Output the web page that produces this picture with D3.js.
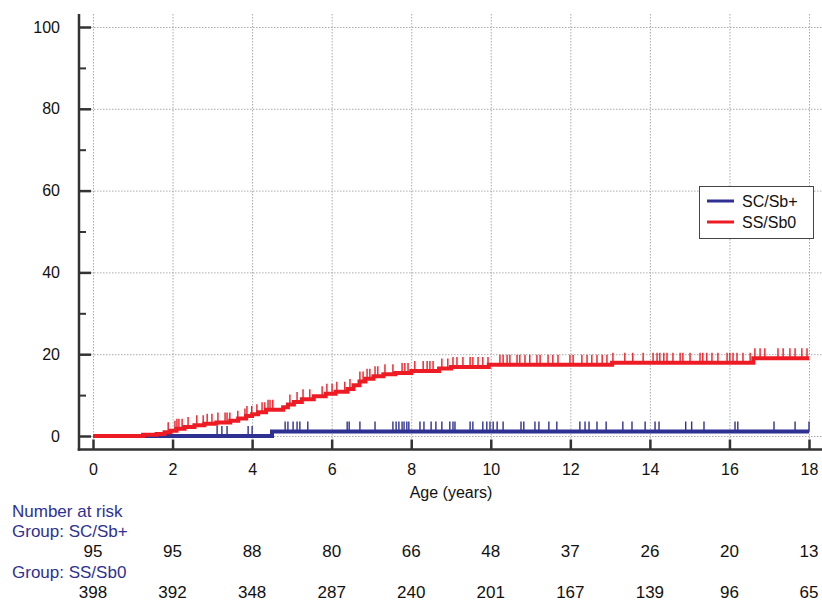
<!DOCTYPE html>
<html>
<head>
<meta charset="utf-8">
<script src="https://cdn.jsdelivr.net/npm/d3@7"></script>
<style>
  html, body { margin: 0; padding: 0; background: #fff; }
  svg { display: block; font-family: Arial, "Liberation Sans", sans-serif; }
</style>
</head>
<body>
<svg id="chart" width="822" height="603"></svg>
<script>
// ---- data ----
const groups = ["SC/Sb+", "SS/Sb0"];
const colors = ["#2e3192", "#ed1c24"];
const xTicks = [0, 2, 4, 6, 8, 10, 12, 14, 16, 18];
const yTicks = [0, 20, 40, 60, 80, 100];
const yMinorTicks = [10, 30, 50, 70, 90];

// step curves: [time, cumulative %]
const scSteps = [[0, 0], [4.5, 1.1], [18, 1.1]];
const ssSteps = [
  [0, 0], [1.26, 0.3], [1.6, 0.5], [1.8, 0.9], [1.95, 1.3], [2.1, 1.8], [2.3, 2.2],
  [2.55, 2.6], [2.8, 3.0], [3.1, 3.3], [3.45, 3.7], [3.65, 4.3], [3.85, 4.9], [4.0, 5.3],
  [4.15, 5.8], [4.35, 6.4], [4.78, 7.0], [4.9, 7.7], [5.05, 8.3], [5.25, 9.0], [5.55, 9.7],
  [5.85, 10.3], [6.1, 10.8], [6.4, 11.5], [6.55, 12.4], [6.7, 13.3], [6.85, 14.0],
  [7.05, 14.6], [7.3, 15.1], [7.6, 15.4], [8.0, 15.9], [8.7, 16.5], [9.0, 16.9],
  [9.95, 17.4], [13.05, 17.9], [16.6, 19.0], [18, 19.0]
];

// censoring times
const scCensor = [3.12, 3.24, 3.37, 3.9, 4.0, 4.83, 4.9, 5.03, 5.13, 5.2, 5.4, 6.39, 6.44,
  6.71, 7.09, 7.54, 7.62, 7.69, 7.77, 7.82, 7.89, 7.94, 8.22, 8.32, 8.5, 8.62, 8.77, 8.97,
  9.05, 9.1, 9.48, 9.55, 9.8, 9.9, 9.98, 10.06, 10.16, 10.31, 10.76, 10.83, 11.11, 11.21,
  11.46, 11.66, 12.24, 12.37, 12.47, 12.67, 12.9, 13.32, 13.55, 13.88, 14.13, 14.23, 14.9,
  15.05, 15.36, 16.14, 16.21, 17.12, 17.65, 18.0];
const ssCensor = [1.89, 2.06, 2.11, 2.16, 2.24, 2.39, 2.61, 2.77, 2.87, 2.99, 3.14, 3.32,
  3.37, 3.44, 3.64, 3.82, 3.87, 3.99, 4.12, 4.25, 4.32, 4.4, 4.45, 4.52, 4.95, 5.13, 5.28,
  5.45, 5.76, 5.88, 6.01, 6.13, 6.33, 6.46, 6.71, 6.79, 6.89, 6.96, 7.09, 7.16, 7.34, 7.54,
  7.77, 7.84, 7.92, 8.09, 8.3, 8.4, 8.47, 8.55, 8.77, 8.92, 9.05, 9.15, 9.3, 9.48, 9.55,
  9.68, 9.8, 9.93, 10.23, 10.31, 10.41, 10.48, 10.66, 10.73, 10.86, 10.98, 11.16, 11.24,
  11.44, 11.56, 11.69, 11.99, 12.07, 12.29, 12.42, 12.54, 12.67, 12.8, 12.92, 13.07, 13.37,
  13.57, 13.83, 14.08, 14.18, 14.25, 14.35, 14.43, 14.58, 14.76, 14.83, 15.01, 15.26,
  15.33, 15.43, 15.56, 15.71, 15.94, 16.01, 16.09, 16.19, 16.34, 16.52, 16.64, 16.77,
  16.89, 17.22, 17.35, 17.52, 17.65, 17.82, 17.95];

const riskSC = [95, 95, 88, 80, 66, 48, 37, 26, 20, 13];
const riskSS = [398, 392, 348, 287, 240, 201, 167, 139, 96, 65];

// ---- drawing ----
const svg = d3.select("#chart");
const x = d3.scaleLinear().domain([0, 18]).range([93, 809]);
const y = d3.scaleLinear().domain([0, 100]).range([436, 27]);
const axisX = 79, axisY = 449.5, plotTop = 14, plotRight = 822;
const axisColor = "#333";

// grid
const grid = svg.append("g").attr("stroke", "#aaa").attr("stroke-width", 1)
  .attr("stroke-dasharray", "1.5,1.5");
grid.selectAll("line.v").data(xTicks).join("line").attr("class", "v")
  .attr("x1", d => x(d) + 0.5).attr("x2", d => x(d) + 0.5)
  .attr("y1", plotTop).attr("y2", axisY);
grid.selectAll("line.h").data(yTicks).join("line").attr("class", "h")
  .attr("x1", axisX).attr("x2", plotRight)
  .attr("y1", d => y(d) + 0.5).attr("y2", d => y(d) + 0.5);

// axes via d3.axis (ticks inward)
const yAxis = d3.axisLeft(y).tickValues(yTicks).tickSize(-12).tickPadding(19);
const gy = svg.append("g").attr("transform", `translate(${axisX},0)`).call(yAxis);
gy.select(".domain").remove();
gy.selectAll(".tick line").attr("stroke", axisColor).attr("stroke-width", 2.5);
gy.selectAll(".tick text").attr("font-size", 16).attr("fill", "#111")
  .attr("font-family", "Arial, 'Liberation Sans', sans-serif");
const gyMinor = svg.append("g").attr("transform", `translate(${axisX},0)`)
  .call(d3.axisLeft(y).tickValues(yMinorTicks).tickSize(-7).tickFormat(""));
gyMinor.select(".domain").remove();
gyMinor.selectAll(".tick line").attr("stroke", axisColor).attr("stroke-width", 2);

const xAxis = d3.axisBottom(x).tickValues(xTicks).tickSize(-10).tickPadding(14);
const gx = svg.append("g").attr("transform", `translate(0,${axisY})`).call(xAxis);
gx.select(".domain").remove();
gx.selectAll(".tick line").attr("stroke", axisColor).attr("stroke-width", 2.5);
gx.selectAll(".tick text").attr("font-size", 16).attr("fill", "#111")
  .attr("font-family", "Arial, 'Liberation Sans', sans-serif");

svg.append("line").attr("x1", axisX).attr("x2", axisX).attr("y1", plotTop).attr("y2", axisY + 1.25)
  .attr("stroke", axisColor).attr("stroke-width", 2.5);
svg.append("line").attr("x1", axisX - 1.25).attr("x2", plotRight).attr("y1", axisY).attr("y2", axisY)
  .attr("stroke", axisColor).attr("stroke-width", 2.5);

// curves
const line = d3.line().x(d => x(d[0])).y(d => y(d[1])).curve(d3.curveStepAfter);
function valueAt(steps, t) {
  let v = steps[0][1];
  for (const s of steps) { if (s[0] <= t) v = s[1]; }
  return v;
}
const series = [
  { steps: scSteps, censor: scCensor, color: colors[0] },
  { steps: ssSteps, censor: ssCensor, color: colors[1] }
];
series.forEach(s => {
  svg.append("g").selectAll("line").data(s.censor).join("line")
    .attr("x1", d => x(d)).attr("x2", d => x(d))
    .attr("y1", d => y(valueAt(s.steps, d)))
    .attr("y2", d => y(valueAt(s.steps, d)) - 10)
    .attr("stroke", s.color).attr("stroke-width", 1.4);
  svg.append("path").datum(s.steps).attr("d", line)
    .attr("fill", "none").attr("stroke", s.color).attr("stroke-width", 4);
});

// legend
const lg = svg.append("g");
lg.append("rect").attr("x", 699.5).attr("y", 186.5).attr("width", 114).attr("height", 52)
  .attr("fill", "#fff").attr("stroke", "#444").attr("stroke-width", 1);
groups.forEach((g, i) => {
  const ly = 201 + i * 21;
  lg.append("line").attr("x1", 707).attr("x2", 734).attr("y1", ly).attr("y2", ly)
    .attr("stroke", colors[i]).attr("stroke-width", 3);
  lg.append("text").attr("x", 742).attr("y", ly + 6).attr("font-size", 16).attr("fill", "#111").text(g);
});

// x axis title
svg.append("text").attr("x", 451).attr("y", 498).attr("text-anchor", "middle")
  .attr("font-size", 16).attr("fill", "#111").text("Age (years)");

// number at risk table
const navy = "#2e3192";
const tbl = svg.append("g").attr("font-size", 17);
tbl.append("text").attr("x", 12).attr("y", 517).attr("fill", navy).text("Number at risk");
tbl.append("text").attr("x", 12).attr("y", 537).attr("fill", navy).text("Group: " + groups[0]);
tbl.selectAll("text.r1").data(riskSC).join("text").attr("class", "r1")
  .attr("x", (d, i) => x(xTicks[i])).attr("y", 557).attr("text-anchor", "middle")
  .attr("fill", "#111").text(d => d);
tbl.append("text").attr("x", 12).attr("y", 578).attr("fill", navy).text("Group: " + groups[1]);
tbl.selectAll("text.r2").data(riskSS).join("text").attr("class", "r2")
  .attr("x", (d, i) => x(xTicks[i])).attr("y", 598).attr("text-anchor", "middle")
  .attr("fill", "#111").text(d => d);
</script>
</body>
</html>
